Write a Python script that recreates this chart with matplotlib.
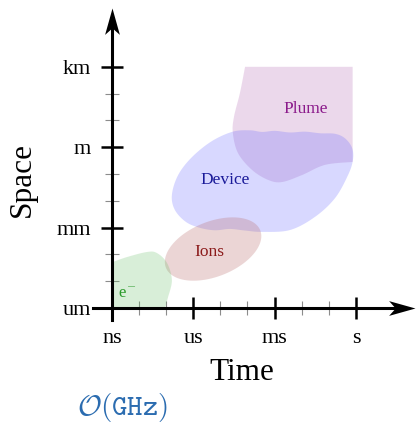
import numpy as np
import matplotlib
matplotlib.use('Agg')
import matplotlib.pyplot as plt
from matplotlib.path import Path

plt.rcParams['font.family'] = ['Liberation Serif', 'DejaVu Serif']
plt.rcParams['mathtext.fontset'] = 'cm'

# axes in decades: ns/um = 0, us/mm = 3, ms/m = 6, s/km = 9
time_ticks = [0, 3, 6, 9]
time_labels = ['ns', 'us', 'ms', 's']
space_ticks = [0, 3, 6, 9]
space_labels = ['um', 'mm', 'm', 'km']
minor_ticks = [1, 2, 4, 5, 7, 8]

# region outlines (time decade, space decade)
electron_t = [0.0, 0.04, 0.55, 1.29, 1.66, 2.03, 2.21, 2.07, 1.96]
electron_s = [0.0, 1.72, 1.90, 2.09, 2.05, 1.68, 1.04, 0.41, 0.0]

ions_center = (3.73, 2.20)
ions_size = (3.75, 2.05)
ions_angle = 22

device_t = [4.46, 5.09, 5.54, 6.01, 6.57, 7.12, 7.68, 8.23, 8.60, 8.86, 8.89, 8.71, 8.23,
            7.49, 6.57, 5.54, 4.91, 4.35, 3.80, 3.25, 2.73, 2.32, 2.21, 2.44, 2.95, 3.69]
device_s = [6.58, 6.63, 6.57, 6.61, 6.55, 6.58, 6.52, 6.50, 6.33, 5.97, 5.52, 4.96, 4.10,
            3.40, 2.91, 2.84, 2.89, 2.95, 2.90, 2.99, 3.21, 3.66, 4.22, 4.96, 5.63, 6.23]

plume_t = [8.88, 7.86, 7.01, 6.27, 5.76, 5.17, 4.65, 4.46, 4.50, 4.72, 4.91]
plume_s = [5.45, 5.34, 4.96, 4.70, 4.78, 5.15, 5.78, 6.53, 7.13, 8.02, 9.0]


def smooth(xs, ys, closed=True, n=24):
    # catmull-rom through the outline points
    p = np.column_stack([xs, ys]).astype(float)
    if closed:
        P = np.vstack([p[-1], p, p[0], p[1]])
    else:
        P = np.vstack([p[0], p, p[-1]])
    t = np.linspace(0, 1, n, endpoint=False)[:, None]
    out = []
    for i in range(1, len(P) - 2):
        p0, p1, p2, p3 = P[i - 1], P[i], P[i + 1], P[i + 2]
        out.append(0.5 * (2 * p1 + (-p0 + p2) * t + (2 * p0 - 5 * p1 + 4 * p2 - p3) * t ** 2
                          + (-p0 + 3 * p1 - 3 * p2 + p3) * t ** 3))
    if not closed:
        out.append(P[-2][None])
    c = np.vstack(out)
    return c[:, 0], c[:, 1]


fig = plt.figure(figsize=(4.17, 4.25), dpi=100)
ax = fig.add_axes([0, 0, 1, 1])
ax.set_xlim(-4.133, 11.255)
ax.set_ylim(-4.366, 11.493)

# plume: square top/right corners, smooth lower edge
px, py = smooth(plume_t, plume_s, closed=False)
px = np.concatenate([px, [plume_t[0]]])
py = np.concatenate([py, [plume_s[-1]]])
ax.fill(px, py, color=(0.7, 0.4, 0.7), alpha=0.25, lw=0, zorder=1)

dx, dy = smooth(device_t, device_s)
ax.fill(dx, dy, color=(0.4, 0.4, 1.0), alpha=0.25, lw=0, zorder=2)

ang = np.linspace(0, 2 * np.pi, 200)
th = np.radians(ions_angle)
ex = ions_size[0] / 2 * np.cos(ang)
ey = ions_size[1] / 2 * np.sin(ang)
ax.fill(ions_center[0] + ex * np.cos(th) - ey * np.sin(th),
        ions_center[1] + ex * np.sin(th) + ey * np.cos(th),
        color=(0.72, 0.42, 0.42), alpha=0.28, lw=0, zorder=3)

gx, gy = smooth(electron_t[1:-1], electron_s[1:-1], closed=False)
gx = np.concatenate([[electron_t[0]], gx, [electron_t[-1]]])
gy = np.concatenate([[electron_s[0]], gy, [electron_s[-1]]])
ax.fill(gx, gy, color=(0.4, 0.75, 0.4), alpha=0.25, lw=0, zorder=3)

ax.text(7.16, 7.43, 'Plume', color='#8b1a8b', fontsize=12.5, ha='center', va='center')
ax.text(4.17, 4.78, 'Device', color='#1a1a99', fontsize=12.5, ha='center', va='center')
ax.text(3.58, 2.09, 'Ions', color='#8b1a1a', fontsize=12.5, ha='center', va='center')
ax.text(0.55, 0.52, r'e$^{-}$', color='#2a9a2a', fontsize=12, ha='center', va='center')

# axes
for side in ['top', 'right']:
    ax.spines[side].set_visible(False)
ax.spines['left'].set_position(('data', 0))
ax.spines['bottom'].set_position(('data', 0))
ax.spines['left'].set_bounds(-0.45, 10.6)
ax.spines['bottom'].set_bounds(-0.70, 10.6)
for side in ['left', 'bottom']:
    ax.spines[side].set_linewidth(2.2)
    ax.spines[side].set_zorder(5)

ax.set_xticks(time_ticks, time_labels)
ax.set_yticks(space_ticks, space_labels)
ax.set_xticks(minor_ticks, minor=True)
ax.set_yticks(minor_ticks, minor=True)
ax.tick_params(which='major', direction='inout', length=16, width=1.8, pad=7, labelsize=16)
ax.tick_params(which='minor', direction='inout', length=10, width=0.8, color='0.55')

up = Path([(0, 0), (0.28, -1), (0, -0.75), (-0.28, -1), (0, 0)],
          [Path.MOVETO, Path.LINETO, Path.LINETO, Path.LINETO, Path.CLOSEPOLY])
right = Path([(0, 0), (-1, 0.28), (-0.75, 0), (-1, -0.28), (0, 0)],
             [Path.MOVETO, Path.LINETO, Path.LINETO, Path.LINETO, Path.CLOSEPOLY])
ax.plot([0], [11.19], marker=up, markersize=38, color='black', mew=0, zorder=6, clip_on=False)
ax.plot([11.18], [0], marker=right, markersize=38, color='black', mew=0, zorder=6, clip_on=False)

ax.text(4.80, -2.42, 'Time', fontsize=22.5, ha='center', va='center')
ax.text(-3.32, 4.78, 'Space', fontsize=22.5, ha='center', va='center', rotation=90)
ax.text(0.37, -3.72, r'$\mathcal{O}(\mathtt{GHz})$', color='#2b6cb0', fontsize=21,
        ha='center', va='center')

fig.savefig('out.png', dpi=100)
